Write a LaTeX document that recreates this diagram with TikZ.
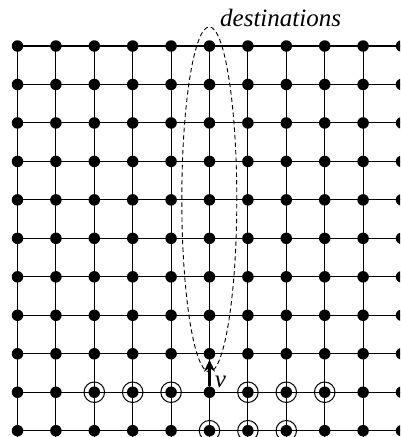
\documentclass[tikz,border=0pt]{standalone}
\usepackage{fontspec}
\setmainfont{Liberation Serif}
\usetikzlibrary{arrows.meta,shapes.geometric}
\begin{document}
\begin{tikzpicture}[x=1pt,y=-1pt,
  gridline/.style={line width=1.1pt,black},
  dot/.style={circle,fill=black,inner sep=0pt,minimum size=11.5pt},
  ring/.style={circle,draw=black,line width=1pt,inner sep=0pt,minimum size=20.5pt},
  arrowline/.style={line width=2.4pt,-{Stealth[length=12pt,width=11pt,inset=4pt]}},
  destellipse/.style={dashed,line width=0.9pt,dash pattern=on 4.5pt off 3pt},
  lbl/.style={font=\fontsize{25}{28}\selectfont\itshape,inner sep=0pt}]
\useasboundingbox (0,0) rectangle (400,437);
\clip (0,0) rectangle (400,437);
% grid coordinates
\foreach \i in {0,...,10}
  \foreach \j in {0,...,11}
    \coordinate (c-\i-\j) at ({17.5+38.4*\i},{46+38.47*\j});
% lines
\foreach \j in {0,...,11}
  \draw[gridline] (c-0-\j) -- (c-10-\j);
\foreach \i in {0,...,10}
  \draw[gridline] (c-\i-0) -- (c-\i-11);
% dots
\foreach \i in {0,...,10}
  \foreach \j in {0,...,10}
    \node[dot] (n-\i-\j) at (c-\i-\j) {};
% rings
\foreach \i/\j in {2/9,3/9,4/9,6/9,7/9,8/9,5/10,6/10,7/10}
  \node[ring] (r-\i-\j) at (c-\i-\j) {};
% destinations ellipse
\node[draw,destellipse,ellipse,minimum width=55pt,minimum height=345pt,inner sep=0pt] (dest) at (209.3,199.4) {};
\node[lbl,anchor=base west] (destlbl) at (220,26) {destinations};
% arrow
\draw[arrowline] (n-5-9) -- (n-5-8);
\node[lbl,anchor=base] (vlbl) at (220.5,387) {v};
\end{tikzpicture}
\end{document}
